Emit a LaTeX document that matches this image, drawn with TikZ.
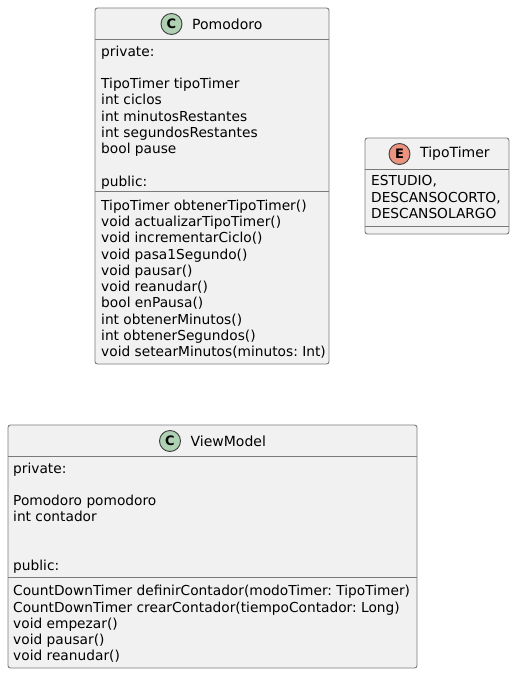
\documentclass[tikz,border=0pt]{standalone}
\usepackage{fontspec}
\usepackage{tikz}
\usetikzlibrary{positioning}
\setmainfont{DejaVu Sans}
\frenchspacing
\definecolor{mfill}{HTML}{F1F1F1}
\definecolor{mline}{HTML}{7A7A7A}
\definecolor{mclass}{HTML}{ADD1B2}
\definecolor{menum}{HTML}{EB937F}
\tikzset{classbox/.style = {draw=mline, line width=0.9pt, fill=mfill, rounded corners=2.5pt},
         sepline/.style = {draw=mline, line width=0.9pt},
         icon/.style = {circle, draw=mline!50!black, line width=0.9pt, minimum size=21pt, inner sep=0pt,
                        font=\fontsize{13}{13}\bfseries\selectfont},
         title/.style = {inner sep=0pt, font=\fontsize{14}{16}\selectfont},
         members/.style = {inner sep=0pt, anchor=north west, align=left,
                           font=\fontsize{13.75}{16.25}\selectfont}}

\begin{document}
\begin{tikzpicture}[x=1pt, y=-1pt]
    \useasboundingbox (0, 0) rectangle (515, 674);

    % Pomodoro
    \draw [classbox] (95, 8) rectangle (329, 364);
    \draw [sepline] (95, 39.5) -- (329, 39.5);
    \draw [sepline] (95, 191.5) -- (329, 191.5);
    \node [icon, fill=mclass] (pomodoroicon) at (171.5, 24) {C};
    \node [title, right=9.5pt of pomodoroicon] (pomodorotitle) {Pomodoro};
    \node [members] (pomodoroattrs) at (101, 45.5) {private:\\
      \mbox{}\\
      TipoTimer tipoTimer\\
      int ciclos\\
      int minutosRestantes\\
      int segundosRestantes\\
      bool pause\\
      \mbox{}\\
      public:};
    \node [members] (pomodoroops) at (101, 199.7) {TipoTimer obtenerTipoTimer()\\
      void actualizarTipoTimer()\\
      void incrementarCiclo()\\
      void pasa1Segundo()\\
      void pausar()\\
      void reanudar()\\
      bool enPausa()\\
      int obtenerMinutos()\\
      int obtenerSegundos()\\
      void setearMinutos(minutos: Int)};

    % TipoTimer
    \draw [classbox] (365, 138) rectangle (509, 234);
    \draw [sepline] (365, 169.5) -- (509, 169.5);
    \draw [sepline] (365, 226.5) -- (509, 226.5);
    \node [icon, fill=menum] (tipotimericon) at (399.5, 154) {E};
    \node [title, right=9.5pt of tipotimericon] (tipotimertitle) {TipoTimer};
    \node [members] (tipotimervalues) at (371, 175.5) {ESTUDIO,\\
      DESCANSOCORTO,\\
      DESCANSOLARGO};

    % ViewModel
    \draw [classbox] (8, 425) rectangle (417, 668);
    \draw [sepline] (8, 456.5) -- (417, 456.5);
    \draw [sepline] (8, 577.5) -- (417, 577.5);
    \node [icon, fill=mclass] (viewmodelicon) at (170, 441) {C};
    \node [title, right=9.5pt of viewmodelicon] (viewmodeltitle) {ViewModel};
    \node [members] (viewmodelattrs) at (13, 462.5) {private:\\
      \mbox{}\\
      Pomodoro pomodoro\\
      int contador\\
      \mbox{}\\
      \mbox{}\\
      public:};
    \node [members] (viewmodelops) at (13, 585.2) {CountDownTimer definirContador(modoTimer: TipoTimer)\\
      CountDownTimer crearContador(tiempoContador: Long)\\
      void empezar()\\
      void pausar()\\
      void reanudar()};
\end{tikzpicture}
\end{document}
